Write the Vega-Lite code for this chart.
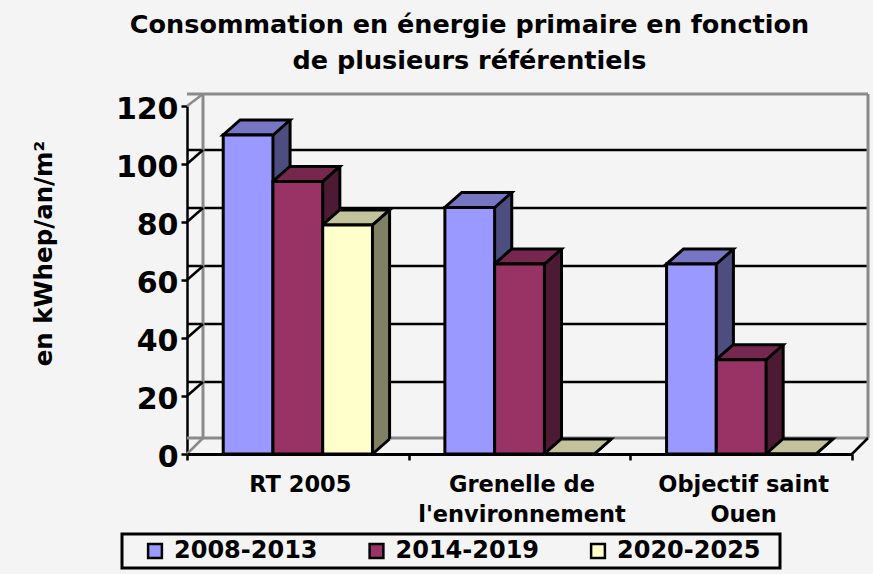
{
"$schema":"https://vega.github.io/schema/vega-lite/v6.json",
"width":665,"height":348,
"autosize":"none",
"padding":{"left":187,"top":106,"right":21,"bottom":120},
"background":"#f4f4f4",
"view":{"stroke":null},
"config":{"legend":{"strokeWidth":3}},
"title":{"text":["Consommation en énergie primaire en fonction","de plusieurs référentiels"],"font":"DejaVu Sans","fontSize":25.5,"fontWeight":"bold","color":"black","anchor":"middle","frame":"group","dx":-50,"offset":15,"lineHeight":36},
"datasets":{
"bars":[
{"categorie":"RT 2005","periode":"2008-2013","valeur":110},
{"categorie":"RT 2005","periode":"2014-2019","valeur":94},
{"categorie":"RT 2005","periode":"2020-2025","valeur":79},
{"categorie":"Grenelle de l'environnement","periode":"2008-2013","valeur":85},
{"categorie":"Grenelle de l'environnement","periode":"2014-2019","valeur":65.5},
{"categorie":"Grenelle de l'environnement","periode":"2020-2025","valeur":0},
{"categorie":"Objectif saint Ouen","periode":"2008-2013","valeur":65.5},
{"categorie":"Objectif saint Ouen","periode":"2014-2019","valeur":32.5},
{"categorie":"Objectif saint Ouen","periode":"2020-2025","valeur":0}
],
"grid":[{"v":20},{"v":40},{"v":60},{"v":80},{"v":100}],
"top":[{"v":120}],
"floor":[{"v":0}]
},
"resolve":{"scale":{"fill":"independent","xOffset":"independent"}},
"layer":[
{"data":{"name":"grid"},"mark":{"type":"rule","color":"black","strokeWidth":2.5,"xOffset":16,"yOffset":-14},
 "encoding":{"y":{"field":"v","type":"quantitative","scale":{"domain":[0,120],"nice":false},"axis":{"values":[0,20,40,60,80,100,120],"title":"en kWhep/an/m²","titleFont":"DejaVu Sans","titleFontSize":24.5,"titleFontWeight":"bold","titleColor":"black","titleX":-131,"titleY":147,"labelFont":"DejaVu Sans","labelFontSize":30,"labelFontWeight":"bold","labelColor":"black","labelPadding":3,"labelOffset":3,"tickColor":"black","tickWidth":2.5,"tickSize":6,"domainColor":"black","domainWidth":2.5,"grid":false}}}},
{"data":{"name":"top"},"mark":{"type":"rule","color":"#8a8a8a","strokeWidth":3,"xOffset":16,"yOffset":-12},
 "encoding":{"y":{"field":"v","type":"quantitative"}}},
{"data":{"name":"floor"},"mark":{"type":"rule","color":"#8a8a8a","strokeWidth":3,"xOffset":16,"yOffset":-16},
 "encoding":{"y":{"field":"v","type":"quantitative"}}},
{"data":{"name":"floor"},"mark":{"type":"rule","color":"#8a8a8a","strokeWidth":3,"xOffset":16,"yOffset":-12,"y2Offset":-16},
 "encoding":{"x":{"datum":"RT 2005","bandPosition":0},"y":{"datum":120},"y2":{"datum":0}}},
{"data":{"name":"floor"},"mark":{"type":"rule","color":"#8a8a8a","strokeWidth":3,"xOffset":16,"yOffset":-12,"y2Offset":-16},
 "encoding":{"x":{"datum":"Objectif saint Ouen","bandPosition":1},"y":{"datum":120},"y2":{"datum":0}}},
{"data":{"name":"grid"},"mark":{"type":"point","shape":"M0,0L16,-14","size":4,"stroke":"black","strokeWidth":2.5,"opacity":1},
 "encoding":{"x":{"datum":"RT 2005","bandPosition":0},"y":{"field":"v","type":"quantitative"}}},
{"data":{"name":"top"},"mark":{"type":"point","shape":"M0,0L16,-12","size":4,"stroke":"#8a8a8a","strokeWidth":2.5,"opacity":1},
 "encoding":{"x":{"datum":"RT 2005","bandPosition":0},"y":{"field":"v","type":"quantitative"}}},
{"data":{"name":"floor"},"mark":{"type":"point","shape":"M0,0L16,-16","size":4,"stroke":"#8a8a8a","strokeWidth":2.5,"opacity":1},
 "encoding":{"x":{"datum":"RT 2005","bandPosition":0},"y":{"field":"v","type":"quantitative"}}},
{"data":{"name":"floor"},"mark":{"type":"point","shape":"M0,0L16,-16","size":4,"stroke":"black","strokeWidth":2.5,"opacity":1},
 "encoding":{"x":{"datum":"Objectif saint Ouen","bandPosition":1},"y":{"field":"v","type":"quantitative"}}},
{"data":{"name":"bars"},"mark":{"type":"bar","yOffset":-15,"y2Offset":-15},
 "encoding":{"x":{"field":"categorie","type":"nominal"},"xOffset":{"field":"periode","type":"nominal","scale":{"type":"band","range":[17,238.67],"paddingInner":0,"paddingOuter":0.728}},"y":{"field":"valeur","type":"quantitative","stack":null},"y2":{"datum":0},
  "fill":{"field":"periode","type":"nominal","scale":{"domain":["2008-2013","2014-2019","2020-2025"],"range":["#4d4d80","#4d1a33","#808066"]},"legend":null}}},
{"data":{"name":"bars"},"mark":{"type":"point","shape":"M25,0L42,-15L25,-15Z","size":4,"filled":true,"opacity":1},
 "encoding":{"x":{"field":"categorie","type":"nominal"},"xOffset":{"field":"periode","type":"nominal","scale":{"type":"band","range":[0,221.67],"paddingInner":0,"paddingOuter":0.728}},"y":{"datum":0},
  "fill":{"field":"periode","type":"nominal","scale":{"domain":["2008-2013","2014-2019","2020-2025"],"range":["#4d4d80","#4d1a33","#808066"]},"legend":null}}},
{"data":{"name":"bars"},"mark":{"type":"point","shape":"M25,0L42,-15","size":4,"stroke":"black","strokeWidth":3,"opacity":1},
 "encoding":{"x":{"field":"categorie","type":"nominal"},"xOffset":{"field":"periode","type":"nominal","scale":{"type":"band","range":[0,221.67],"paddingInner":0,"paddingOuter":0.728}},"y":{"datum":0}}},
{"data":{"name":"bars"},"mark":{"type":"rule","color":"black","strokeWidth":3,"yOffset":-15,"y2Offset":-15},
 "encoding":{"x":{"field":"categorie","type":"nominal"},"xOffset":{"field":"periode","type":"nominal","scale":{"type":"band","range":[42,263.67],"paddingInner":0,"paddingOuter":0.728}},"y":{"field":"valeur","type":"quantitative"},"y2":{"datum":0}}},
{"data":{"name":"bars"},"mark":{"type":"point","shape":"M-25,0L25,0L42,-15L-8,-15Z","size":4,"filled":true,"stroke":"black","strokeWidth":3,"opacity":1},
 "encoding":{"x":{"field":"categorie","type":"nominal"},"xOffset":{"field":"periode","type":"nominal","scale":{"type":"band","range":[0,221.67],"paddingInner":0,"paddingOuter":0.728}},"y":{"field":"valeur","type":"quantitative"},
  "fill":{"field":"periode","type":"nominal","scale":{"domain":["2008-2013","2014-2019","2020-2025"],"range":["#7676c4","#75274e","#c2c29c"]},"legend":null}}},
{"data":{"name":"bars"},"mark":{"type":"bar","stroke":"black","strokeWidth":3},
 "encoding":{
  "x":{"field":"categorie","type":"nominal","scale":{"domain":["RT 2005","Grenelle de l'environnement","Objectif saint Ouen"],"paddingInner":0,"paddingOuter":0},
   "axis":{"title":null,"labelAngle":0,"labelAlign":"center","tickBand":"extent","labelExpr":"datum.label == 'Objectif saint Ouen' ? ['Objectif saint','Ouen'] : (datum.label == 'RT 2005' || datum.label == '' ? datum.label : ['Grenelle de','l\\'environnement'])","labelFont":"DejaVu Sans","labelFontSize":22.5,"labelFontWeight":"bold","labelColor":"black","labelLineHeight":30,"labelPadding":24,"labelOffset":2,"labelLimit":300,"tickColor":"black","tickWidth":2.5,"tickSize":6,"domainColor":"black","domainWidth":3,"zindex":1}},
  "xOffset":{"field":"periode","type":"nominal","scale":{"type":"band","range":[0,221.67],"paddingInner":0,"paddingOuter":0.728}},
  "y":{"field":"valeur","type":"quantitative","stack":null},"y2":{"datum":0},
  "fill":{"field":"periode","type":"nominal","scale":{"domain":["2008-2013","2014-2019","2020-2025"],"range":["#9999ff","#993366","#ffffcc"]},
   "legend":{"title":" ","titleOrient":"right","titlePadding":14,"titleFontSize":10,"orient":"none","legendX":-65,"legendY":428,"direction":"horizontal","columns":3,"symbolType":"square","symbolSize":190,"symbolStrokeColor":"black","symbolStrokeWidth":2.5,"symbolOffset":16,"labelFont":"DejaVu Sans","labelFontSize":24,"labelFontWeight":"bold","labelColor":"black","labelLimit":200,"labelOffset":7,"columnPadding":30.5,"strokeColor":"black","padding":5,"fillColor":"#f4f4f4"}}}}
]
}
